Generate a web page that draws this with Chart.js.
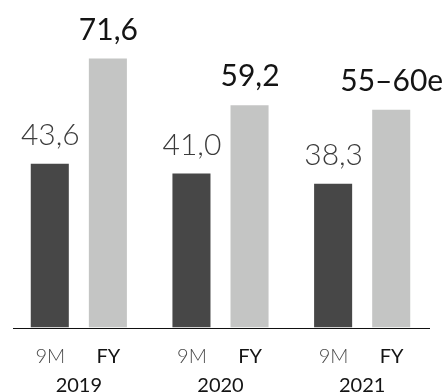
<!DOCTYPE html>
<html>
<head>
<meta charset="utf-8">
<script src="https://cdn.jsdelivr.net/npm/chart.js@4/dist/chart.umd.min.js"></script>
<style>
  html, body { margin: 0; padding: 0; background: #fff; }
  #wrap { width: 447px; height: 392px; }
</style>
</head>
<body>
<div id="wrap"><canvas id="c" width="447" height="392"></canvas></div>
<script>
// Years on the category axis, two series per year
const years = ['2019', '2020', '2021'];
const seriesNames = ['9M', 'FY'];
const nineMonths = [43.6, 41.0, 38.3];
const fullYear = [71.6, 59.2, 58.0];
// Text shown above each bar
const nineMonthLabels = ['43,6', '41,0', '38,3'];
const fullYearLabels = ['71,6', '59,2', '55–60e'];

const DARK = '#474747';
const LIGHT = '#c4c5c4';

// Value labels above bars, series names under bars, and the baseline
const annotate = {
  id: 'annotate',
  afterDatasetsDraw(chart) {
    const ctx = chart.ctx;
    const area = chart.chartArea;
    const y0 = chart.scales.y.getPixelForValue(0);
    ctx.save();
    ctx.strokeStyle = '#111';
    ctx.lineWidth = 1;
    ctx.beginPath();
    ctx.moveTo(area.left + 5, Math.round(y0) + 0.5);
    ctx.lineTo(area.right - 3, Math.round(y0) + 0.5);
    ctx.stroke();

    ctx.textAlign = 'center';
    ctx.textBaseline = 'alphabetic';
    const styles = [
      { font: '300 30px Lato', color: '#3c3c3c', labels: nineMonthLabels, sub: '300 20px Lato', subColor: '#4a4a4a' },
      { font: '400 30px Lato', color: '#141414', labels: fullYearLabels, sub: '400 20px Lato', subColor: '#141414' }
    ];
    chart.data.datasets.forEach((ds, di) => {
      const meta = chart.getDatasetMeta(di);
      const st = styles[di];
      meta.data.forEach((bar, i) => {
        ctx.font = st.font;
        ctx.fillStyle = st.color;
        ctx.fillText(st.labels[i], bar.x + 0.5, bar.y - 19);
        ctx.font = st.sub;
        ctx.fillStyle = st.subColor;
        ctx.fillText(seriesNames[di], bar.x + 0.5, y0 + 35);
      });
    });
    ctx.restore();
  }
};

new Chart(document.getElementById('c'), {
  type: 'bar',
  data: {
    labels: years,
    datasets: [
      { label: seriesNames[0], data: nineMonths, backgroundColor: DARK },
      { label: seriesNames[1], data: fullYear, backgroundColor: LIGHT }
    ]
  },
  options: {
    responsive: false,
    animation: false,
    devicePixelRatio: 1,
    layout: { padding: { left: 8, right: 14, top: 0, bottom: 0 } },
    datasets: { bar: { categoryPercentage: 0.82, barPercentage: 0.655 } },
    plugins: { legend: { display: false }, tooltip: { enabled: false } },
    scales: {
      x: {
        grid: { display: false, drawTicks: false },
        border: { display: false },
        ticks: {
          color: '#141414',
          font: { family: 'Lato', size: 20, weight: '400' },
          padding: 46
        },
        afterFit(scale) { scale.height = 64.5; }
      },
      y: {
        display: false,
        min: 0,
        max: 87.2
      }
    }
  },
  plugins: [annotate]
});
</script>
</body>
</html>
